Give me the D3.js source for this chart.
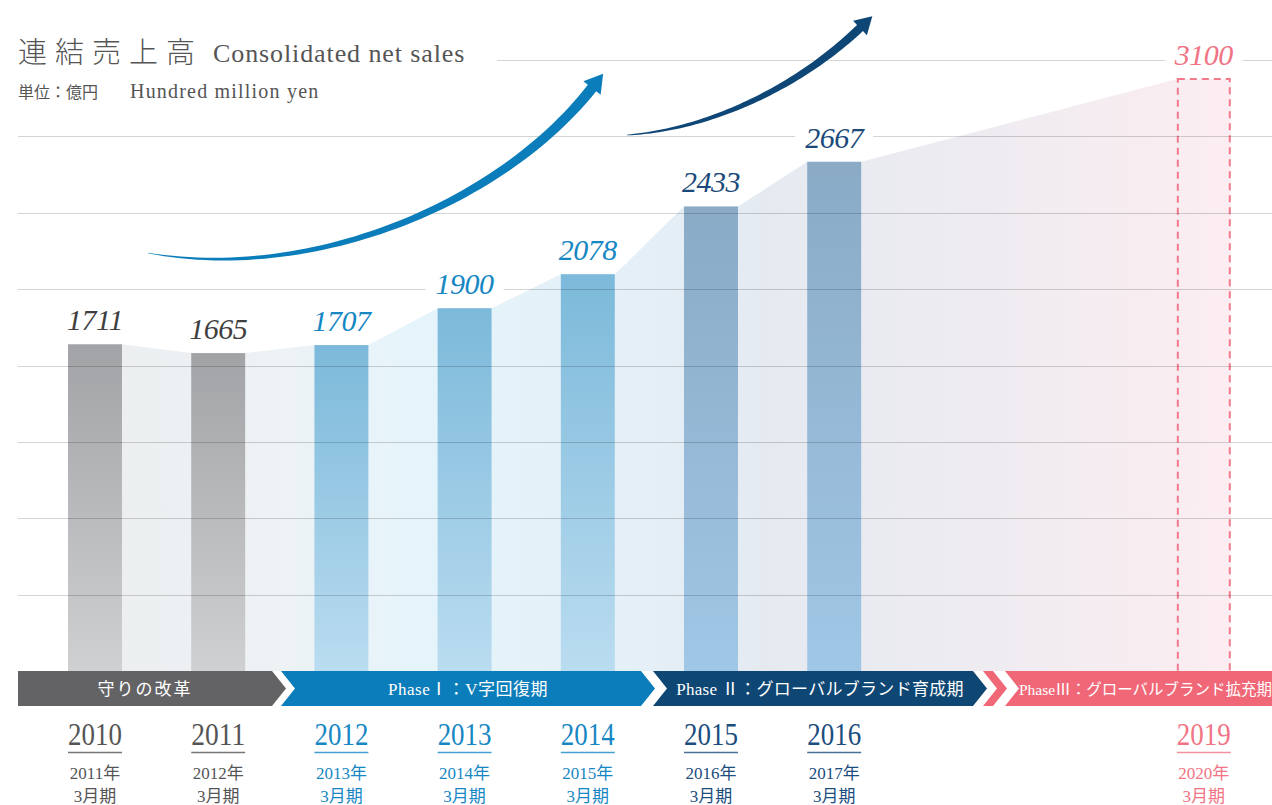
<!DOCTYPE html>
<html>
<head>
<meta charset="utf-8">
<script src="https://cdn.jsdelivr.net/npm/d3@7"></script>
<style>
  body { margin: 0; background: #fff; }
  svg { display: block; }
</style>
</head>
<body>
<div id="chart"></div>
<script>
// ---- data ----
const years = ["2010", "2011", "2012", "2013", "2014", "2015", "2016", "2017", "2018", "2019"];
const salesYears = ["2010", "2011", "2012", "2013", "2014", "2015", "2016"];
const sales = [1711, 1665, 1707, 1900, 2078, 2433, 2667];
const salesGroups = ["reform", "reform", "p1", "p1", "p1", "p2", "p2"];
const targetYear = "2019";
const targetSales = 3100;
const fiscalLabels = ["2011年", "2012年", "2013年", "2014年", "2015年", "2016年", "2017年"];
const targetFiscal = "2020年";
const periodLabel = "3月期";
const gridValues = [400, 800, 1200, 1600, 2000, 2400, 2800, 3200];
const phaseNames = ["守りの改革", "PhaseⅠ：V字回復期", "Phase Ⅱ：グローバルブランド育成期", "PhaseⅢ：グローバルブランド拡充期"];

const width = 1272, height = 805;
const bandTop = 671, bandH = 35;

const colors = {
    reform: {text: "#555555", value: "#3f3f3f", top: "#a1a3a6", bottom: "#cfd0d2"},
    p1: {text: "#1787c4", value: "#1787c4", top: "#7cb9da", bottom: "#badcf0"},
    p2: {text: "#1b4d7e", value: "#1b4a7a", top: "#8aaac6", bottom: "#a0c7e6"},
    p3: {text: "#f07484", value: "#f07484"}
};

const svg = d3.select("#chart").append("svg")
    .attr("width", width)
    .attr("height", height);

const defs = svg.append("defs");

const x = d3.scaleBand()
    .domain(years)
    .range([33.4, 1265.4])
    .paddingInner(0.562)
    .paddingOuter(0.281);

const y = d3.scaleLinear()
    .domain([0, 3200])
    .range([bandTop, 60]);

const bw = x.bandwidth();

// gradients for bars
["reform", "p1", "p2"].forEach(function (k) {
    const g = defs.append("linearGradient")
        .attr("id", "bar-" + k)
        .attr("x1", 0).attr("y1", 0).attr("x2", 0).attr("y2", 1);
    g.append("stop").attr("offset", "0").attr("stop-color", colors[k].top);
    g.append("stop").attr("offset", "1").attr("stop-color", colors[k].bottom);
});

// horizontal gradient for the background area
const areaGrad = defs.append("linearGradient")
    .attr("id", "area-grad")
    .attr("gradientUnits", "userSpaceOnUse")
    .attr("x1", x("2010")).attr("x2", x(targetYear) + bw)
    .attr("y1", 0).attr("y2", 0);
[[0, "#eceeef"], [0.18, "#edf2f5"], [0.3, "#e5f4fb"], [0.5, "#e4eff7"],
 [0.6, "#e5eaf1"], [0.8, "#efecf1"], [1, "#fcedf1"]].forEach(function (s) {
    areaGrad.append("stop").attr("offset", s[0]).attr("stop-color", s[1]);
});

// ---- background area joining the bar tops ----
let areaPts = [];
salesYears.forEach(function (yr, i) {
    areaPts.push({x: x(yr), v: sales[i]});
    areaPts.push({x: x(yr) + bw, v: sales[i]});
});
areaPts.push({x: x(targetYear), v: targetSales});
areaPts.push({x: x(targetYear) + bw, v: targetSales});

const area = d3.area()
    .x(function (d) { return d.x; })
    .y0(y(0))
    .y1(function (d) { return y(d.v); });

svg.append("path")
    .datum(areaPts)
    .attr("d", area)
    .attr("fill", "url(#area-grad)");

// ---- bars ----
svg.selectAll(".bar")
    .data(sales)
    .enter().append("rect")
    .attr("class", "bar")
    .attr("x", function (d, i) { return x(salesYears[i]); })
    .attr("y", function (d) { return y(d); })
    .attr("width", bw)
    .attr("height", function (d) { return y(0) - y(d); })
    .attr("fill", function (d, i) { return "url(#bar-" + salesGroups[i] + ")"; });

// target box (bottom edge tucked under the phase band)
svg.append("rect")
    .attr("x", x(targetYear) + 1)
    .attr("y", y(targetSales))
    .attr("width", bw - 2)
    .attr("height", y(0) - y(targetSales) + 6)
    .attr("fill", "none")
    .attr("stroke", "#f27a8b")
    .attr("stroke-width", 2)
    .attr("stroke-dasharray", "7,5");

// ---- gridlines (drawn over the bars) ----
svg.selectAll(".grid")
    .data(gridValues)
    .enter().append("line")
    .attr("class", "grid")
    .attr("x1", function (d) { return d === 3200 ? 497 : 18; })
    .attr("x2", width)
    .attr("y1", function (d) { return Math.round(y(d)) + 0.5; })
    .attr("y2", function (d) { return Math.round(y(d)) + 0.5; })
    .attr("stroke", "#000")
    .attr("stroke-opacity", 0.17)
    .attr("stroke-width", 1);

// ---- value labels with white backing ----
const valueData = sales.map(function (v, i) {
    return {year: salesYears[i], v: v, c: colors[salesGroups[i]].value};
}).concat([{year: targetYear, v: targetSales, c: colors.p3.value}]);

const vl = svg.selectAll(".vlabel")
    .data(valueData)
    .enter().append("g")
    .attr("class", "vlabel");

vl.append("rect").attr("fill", "#fff");
vl.append("text")
    .attr("x", function (d) { return x(d.year) + bw / 2; })
    .attr("y", function (d) { return y(d.v) - 14; })
    .attr("text-anchor", "middle")
    .attr("font-family", "Liberation Serif, serif")
    .attr("font-style", "italic")
    .attr("font-size", 30)
    .attr("letter-spacing", -0.5)
    .attr("fill", function (d) { return d.c; })
    .text(function (d) { return d.v; });

vl.each(function (d) {
    const g = d3.select(this);
    const w = g.select("text").node().getComputedTextLength();
    g.select("rect")
        .attr("x", x(d.year) + bw / 2 - w / 2 - 10)
        .attr("y", y(d.v) - 36)
        .attr("width", w + 20)
        .attr("height", 26);
});

// ---- arrows ----
function taperedArrow(p, wMax, headLen, headHalf) {
    const bez = function (t) {
        const u = 1 - t;
        return [u * u * u * p[0][0] + 3 * u * u * t * p[1][0] + 3 * u * t * t * p[2][0] + t * t * t * p[3][0],
                u * u * u * p[0][1] + 3 * u * u * t * p[1][1] + 3 * u * t * t * p[2][1] + t * t * t * p[3][1]];
    };
    const der = function (t) {
        const u = 1 - t;
        let dx = 3 * u * u * (p[1][0] - p[0][0]) + 6 * u * t * (p[2][0] - p[1][0]) + 3 * t * t * (p[3][0] - p[2][0]);
        let dy = 3 * u * u * (p[1][1] - p[0][1]) + 6 * u * t * (p[2][1] - p[1][1]) + 3 * t * t * (p[3][1] - p[2][1]);
        const l = Math.hypot(dx, dy);
        return [dx / l, dy / l];
    };
    const left = [], right = [];
    for (let i = 0; i <= 60; i++) {
        const t = i / 60;
        const pt = bez(t), dv = der(t);
        const w = wMax * Math.pow(t, 0.8) / 2 + 0.3;
        left.push([pt[0] - dv[1] * w, pt[1] + dv[0] * w]);
        right.push([pt[0] + dv[1] * w, pt[1] - dv[0] * w]);
    }
    const e = bez(1), dv = der(1);
    const head = [
        [e[0] - dv[1] * headHalf, e[1] + dv[0] * headHalf],
        [e[0] + dv[0] * headLen, e[1] + dv[1] * headLen],
        [e[0] + dv[1] * headHalf, e[1] - dv[0] * headHalf]
    ];
    return "M" + left.concat(head, right.reverse()).map(function (q) { return q.join(","); }).join("L") + "Z";
}

svg.append("path")
    .attr("d", taperedArrow([[148, 253], [310, 282], [500, 205], [592, 88]], 10, 18, 11))
    .attr("fill", "#0b7dba");

svg.append("path")
    .attr("d", taperedArrow([[627, 135], [705, 130], [795, 90], [860, 28]], 8, 17, 10))
    .attr("fill", "#0e4776");

// ---- phase band ----
const chev = 14;
function chevron(xa, xb, flatLeft) {
    const t = bandTop, b = bandTop + bandH, m = bandTop + bandH / 2;
    const pts = [[xa, t], [xb, t], [xb + chev, m], [xb, b], [xa, b]];
    if (!flatLeft) pts.push([xa + chev, m]);
    return "M" + pts.map(function (q) { return q.join(","); }).join("L") + "Z";
}

const phaseSegs = [
    {xa: 18, xb: 272, flat: true, fill: "#636365", name: phaseNames[0], size: 17, ls: 2},
    {xa: 281, xb: 641, fill: "#0b7dba", name: phaseNames[1], size: 17, ls: 0.5},
    {xa: 653, xb: 973, fill: "#0e4674", name: phaseNames[2], size: 17, ls: 0.3},
    {xa: 1005, xb: 1290, fill: "#f06878", name: phaseNames[3], size: 15.5, ls: 0}
];

svg.selectAll(".phase")
    .data(phaseSegs)
    .enter().append("path")
    .attr("class", "phase")
    .attr("d", function (d) { return chevron(d.xa, d.xb, d.flat); })
    .attr("fill", function (d) { return d.fill; });

// thin pink stripe of the double chevron
svg.append("path")
    .attr("d", chevron(983, 993, false))
    .attr("fill", "#f06878");

svg.selectAll(".phase-label")
    .data(phaseSegs)
    .enter().append("text")
    .attr("class", "phase-label")
    .attr("x", function (d) { return (d.xa + Math.min(d.xb, width)) / 2 + (d.flat ? 0 : chev / 2); })
    .attr("y", bandTop + bandH / 2 + 6)
    .attr("text-anchor", "middle")
    .attr("font-family", "Liberation Serif, Noto Sans CJK JP, serif")
    .attr("font-size", function (d) { return d.size; })
    .attr("letter-spacing", function (d) { return d.ls; })
    .attr("fill", "#fff")
    .text(function (d) { return d.name; });

// ---- year labels ----
const yearData = salesYears.map(function (yr, i) {
    return {year: yr, fiscal: fiscalLabels[i], c: colors[salesGroups[i]].text};
}).concat([{year: targetYear, fiscal: targetFiscal, c: colors.p3.text}]);

const yl = svg.selectAll(".ylabel")
    .data(yearData)
    .enter().append("g")
    .attr("class", "ylabel")
    .attr("transform", function (d) { return "translate(" + (x(d.year) + bw / 2) + ",0)"; });

yl.append("text")
    .attr("y", 745)
    .attr("text-anchor", "middle")
    .attr("font-family", "Liberation Serif, serif")
    .attr("font-size", 31)
    .attr("textLength", bw)
    .attr("lengthAdjust", "spacingAndGlyphs")
    .attr("fill", function (d) { return d.c; })
    .text(function (d) { return d.year; });

yl.append("line")
    .attr("x1", -bw / 2).attr("x2", bw / 2)
    .attr("y1", 752.5).attr("y2", 752.5)
    .attr("stroke", function (d) { return d.c; })
    .attr("stroke-opacity", 0.8)
    .attr("stroke-width", 1.5);

yl.append("text")
    .attr("y", 779)
    .attr("text-anchor", "middle")
    .attr("font-family", "Liberation Serif, Noto Sans CJK JP, serif")
    .attr("font-size", 17)
    .attr("fill", function (d) { return d.c; })
    .text(function (d) { return d.fiscal; });

yl.append("text")
    .attr("y", 802)
    .attr("text-anchor", "middle")
    .attr("font-family", "Liberation Serif, Noto Sans CJK JP, serif")
    .attr("font-size", 17)
    .attr("fill", function (d) { return d.c; })
    .text(periodLabel);

// ---- title ----
svg.append("text")
    .attr("x", 18)
    .attr("y", 63)
    .attr("font-family", "Noto Sans CJK JP, sans-serif")
    .attr("font-size", 29)
    .attr("font-weight", 300)
    .attr("letter-spacing", 8)
    .attr("fill", "#555")
    .text("連結売上高");

svg.append("text")
    .attr("x", 213)
    .attr("y", 62)
    .attr("font-family", "Liberation Serif, serif")
    .attr("font-size", 26)
    .attr("letter-spacing", 0.9)
    .attr("fill", "#555")
    .text("Consolidated net sales");

svg.append("text")
    .attr("x", 18)
    .attr("y", 98)
    .attr("font-family", "Noto Sans CJK JP, sans-serif")
    .attr("font-size", 16)
    .attr("fill", "#555")
    .text("単位：億円");

svg.append("text")
    .attr("x", 130)
    .attr("y", 98)
    .attr("font-family", "Liberation Serif, serif")
    .attr("font-size", 20)
    .attr("letter-spacing", 1.2)
    .attr("fill", "#555")
    .text("Hundred million yen");
</script>
</body>
</html>
